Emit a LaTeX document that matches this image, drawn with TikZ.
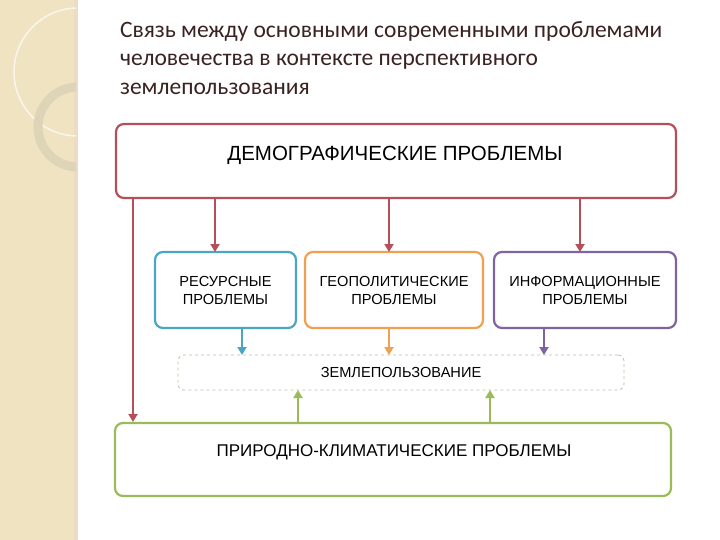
\documentclass[tikz,border=0pt]{standalone}
\usepackage{fontspec}
\setmainfont{Liberation Sans}
\newfontfamily\titlefont{Carlito}
\usetikzlibrary{arrows.meta}
\definecolor{cred}{HTML}{B5505A}
\definecolor{cblue}{HTML}{4BA6C4}
\definecolor{corange}{HTML}{F0A050}
\definecolor{cpurple}{HTML}{8064A2}
\definecolor{cgreen}{HTML}{9BBB59}
\definecolor{cbeige}{HTML}{EFE3C2}
\definecolor{ctitle}{HTML}{3A2222}
\tikzset{
  box/.style={draw=#1, line width=2.2pt, rounded corners=8pt, fill=white, inner sep=0pt, align=center},
  arr/.style={draw=#1, line width=2pt, -{Triangle[length=8pt,width=9pt]}},
  lab/.style={font=\fontsize{14.6}{18}\selectfont, align=center},
}
\begin{document}
\begin{tikzpicture}[x=1pt,y=-1pt]
\useasboundingbox (0,0) rectangle (720,540);
\fill[white] (0,0) rectangle (720,540);
% left decorative stripe
\fill[cbeige] (0,0) rectangle (76,540);
\fill[cbeige!70!brown!60] (74,0) rectangle (78,540);
\begin{scope}
\clip (0,0) rectangle (76,540);
\draw[white, opacity=0.7, line width=1.5pt] (78,72) circle (64);
\draw[cbeige!85!gray, line width=9pt] (78,127) circle (40);
\end{scope}
% title
\node[anchor=north west, text=ctitle, font=\titlefont\fontsize{23.5}{28.5}\selectfont, align=left, inner sep=0pt] (title) at (120,21)
 {Связь между основными современными проблемами\\человечества в контексте перспективного\\землепользования};
% boxes
\node[box=cred, minimum width=560, minimum height=74] (demo) at (396,161) {};
\node[font=\fontsize{20.5}{24}\selectfont] (demot) at (395,155) {ДЕМОГРАФИЧЕСКИЕ ПРОБЛЕМЫ};
\node[box=cblue, minimum width=141, minimum height=76, lab] (res) at (225.5,290) {РЕСУРСНЫЕ\\ПРОБЛЕМЫ};
\node[box=corange, minimum width=178, minimum height=76, lab] (geo) at (394,290) {ГЕОПОЛИТИЧЕСКИЕ\\ПРОБЛЕМЫ};
\node[box=cpurple, minimum width=182, minimum height=76, lab] (inf) at (585,290) {ИНФОРМАЦИОННЫЕ\\ПРОБЛЕМЫ};
\node[draw=cbeige!60!gray, dashed, line width=0.8pt, rounded corners=6pt, minimum width=446, minimum height=35, lab] (land) at (401,372.5) {ЗЕМЛЕПОЛЬЗОВАНИЕ};
\node[box=cgreen, minimum width=556, minimum height=73] (nat) at (393,459.5) {};
\node[font=\fontsize{17}{20}\selectfont] (natt) at (394,452) {ПРИРОДНО-КЛИМАТИЧЕСКИЕ ПРОБЛЕМЫ};
% arrows
\draw[arr=cred] (215,198) -- (215,252);
\draw[arr=cred] (389,198) -- (389,252);
\draw[arr=cred] (580,198) -- (580,252);
\draw[arr=cred] (133,198) -- (133,422);
\draw[arr=cblue] (242,328) -- (242,355);
\draw[arr=corange] (389,328) -- (389,355);
\draw[arr=cpurple] (544,328) -- (544,355);
\draw[arr=cgreen] (298,423) -- (298,390);
\draw[arr=cgreen] (490,423) -- (490,390);
\end{tikzpicture}
\end{document}
